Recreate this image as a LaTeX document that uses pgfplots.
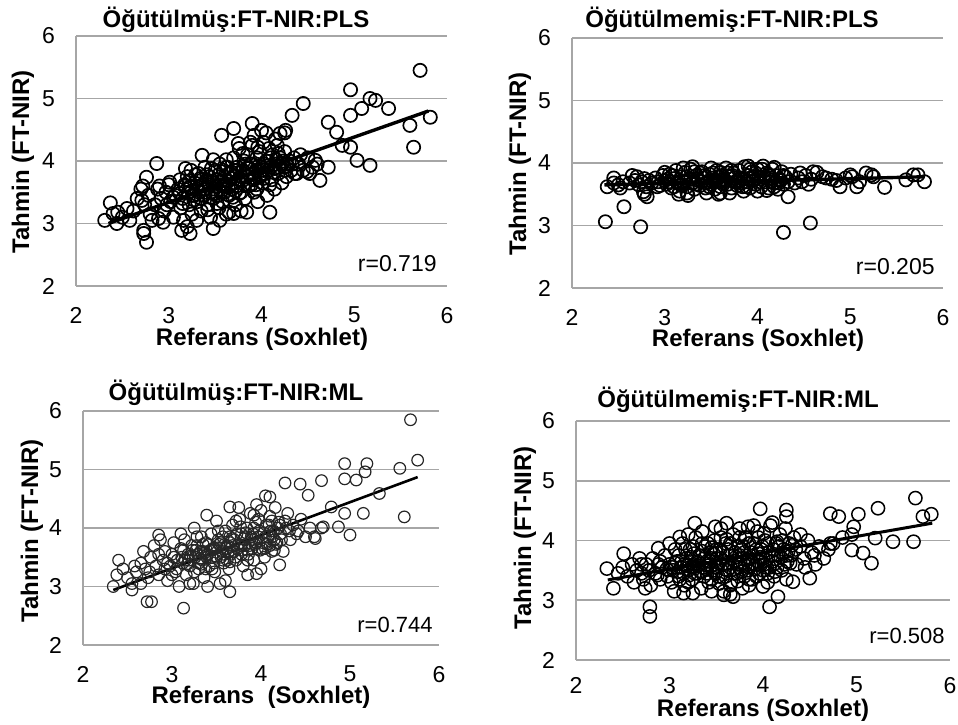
\documentclass[border=0pt]{standalone}
\usepackage{fontspec}
\setmainfont{Liberation Sans}
\usepackage{pgfplots}
\pgfplotsset{compat=1.18}

\pgfplotsset{
  panel/.style={
    scale only axis,
    anchor=south west,
    xmin=2, xmax=6, ymin=2, ymax=6,
    xtick={2,3,4,5,6}, ytick={2,3,4,5,6},
    axis x line*=bottom, axis y line*=left,
    axis line style={draw=black!35, line width=0.9pt, -},
    ymajorgrids,
    grid style={draw=black!35, line width=0.9pt},
    major tick length=0pt,
    /pgf/number format/assume math mode=true,
    tick label style={font=\fontsize{11.5}{12}\selectfont},
    yticklabel style={xshift=-7pt},
    xticklabel style={yshift=-7pt},
  },
  pts/.style={only marks, mark=o, mark size=3.3pt, mark options={line width=0.85pt, draw=black}},
  fit/.style={no marks, line width=1.7pt, black},
}

\begin{document}
\begin{tikzpicture}
\useasboundingbox (0,0) rectangle (479pt,362pt);

% top left
\begin{axis}[panel, at={(38pt,219pt)}, width=185.5pt, height=125pt]
\addplot[pts] coordinates {
(5.71,5.45) (4.96,5.14) (5.08,4.84) (4.96,4.73) (5.17,5.00) (5.23,4.97) (5.37,4.84)
(5.82,4.70) (5.60,4.57) (5.64,4.22) (5.17,3.93) (5.03,4.01) (4.96,4.22) (4.87,4.25)
(4.81,4.46) (4.72,4.62) (4.72,3.90) (4.63,3.69) (4.58,4.01) (4.45,4.92) (4.33,4.73)
(4.26,4.49) (4.20,4.44) (3.70,4.52) (3.57,4.41) (3.90,4.60) (4.00,4.49) (3.92,4.41)
(3.36,4.09) (2.87,3.96) (2.37,3.33) (2.31,3.05) (2.44,3.00) (2.40,3.16) (2.55,3.24)
(2.71,3.37) (2.76,3.74) (2.73,2.89) (2.76,2.70) (2.73,2.84) (2.89,3.08) (2.94,3.02)
(3.14,2.89) (3.23,2.84) (3.48,2.92) (4.09,3.18) (3.84,3.18) (3.70,3.16) (3.01,3.66)
(3.18,3.88) (4.49,3.83) (4.36,3.80)
(2.45,3.18) (2.50,3.10) (2.58,3.05) (2.62,3.20) (2.66,3.40) (2.70,3.55) (2.72,3.60)
(2.74,3.30) (2.78,3.45) (2.80,3.15) (2.82,3.05) (2.85,3.30) (2.88,3.55) (2.90,3.60)
(2.92,3.40) (2.95,3.20) (2.97,3.50) (3.00,3.62) (3.02,3.35) (3.05,3.10) (3.07,3.45)
(3.10,3.55) (3.12,3.70) (3.13,3.25) (3.15,3.40) (3.16,3.05) (3.18,3.60) (3.20,3.75)
(3.21,3.50) (3.22,3.30) (3.24,3.85) (3.25,3.15) (3.26,3.45) (3.28,3.65) (3.30,3.55)
(3.31,3.35) (3.32,3.80) (3.34,3.60) (3.35,3.20) (3.36,3.70) (3.38,3.45) (3.39,3.90)
(3.40,3.55) (3.42,3.30) (3.43,3.65) (3.44,3.75) (3.45,3.10) (3.46,3.50) (3.48,3.40)
(3.50,3.85) (3.51,3.60) (3.52,3.70) (3.54,3.25) (3.55,3.95) (3.56,3.50) (3.58,3.35)
(3.60,3.75) (3.61,3.60) (3.62,3.15) (3.63,3.90) (3.65,3.45) (3.66,3.80) (3.68,3.55)
(3.70,4.05) (3.71,3.65) (3.72,3.30) (3.74,3.90) (3.75,3.70) (3.76,4.20) (3.78,3.50)
(3.80,3.85) (3.81,4.00) (3.82,3.40) (3.84,3.75) (3.85,4.10) (3.86,3.60) (3.88,3.95)
(3.90,4.25) (3.91,3.70) (3.92,3.50) (3.94,3.85) (3.95,4.05) (3.96,3.35) (3.98,4.15)
(4.00,3.90) (4.01,3.65) (4.02,4.30) (4.04,3.80) (4.05,4.00) (4.06,3.45) (4.08,4.20)
(4.10,3.90) (4.11,3.70) (4.12,4.10) (4.14,3.55) (4.15,3.95) (4.17,4.25) (4.18,3.80)
(4.20,4.05) (4.22,3.65) (4.24,3.90) (4.25,4.15) (4.27,3.75) (4.30,4.00) (4.32,3.85)
(4.35,4.05) (4.38,3.80) (4.40,3.95) (4.42,4.10) (4.45,3.85) (4.50,4.05) (4.55,3.90)
(4.52,3.80) (4.60,3.95) (3.48,4.02) (3.62,4.02) (3.75,4.28) (3.88,4.30) (4.05,4.45)
(4.15,4.35) (4.25,4.45) (3.20,2.95) (3.30,3.05) (3.55,3.05) (3.65,3.18) (3.78,3.20)
(3.12,3.48) (3.17,3.62) (3.23,3.58) (3.27,3.38) (3.29,3.78) (3.33,3.50) (3.37,3.62)
(3.41,3.78) (3.45,3.42) (3.47,3.66) (3.49,3.55) (3.53,3.45) (3.57,3.68) (3.59,3.85)
(3.64,3.58) (3.67,3.72) (3.69,3.42) (3.73,3.60) (3.77,3.82) (3.79,3.68) (3.83,3.95)
(3.87,3.78) (3.89,3.62) (3.93,3.72) (3.97,3.92) (3.99,3.78) (4.03,3.95) (4.07,3.85)
(4.09,3.62) (4.13,3.82) (4.16,4.02) (4.19,3.90) (4.23,4.00) (4.28,3.92) (4.33,3.95)
(3.35,3.40) (3.55,3.62) (3.85,3.88) (3.60,3.50) (3.70,3.85) (3.40,3.68) (3.25,3.52)
(3.15,3.32) (3.05,3.42) (2.98,3.30) (3.95,3.55) (4.02,3.72) (3.76,3.48) (3.52,3.32)
(3.42,3.22)
(3.22,3.68) (3.28,3.45) (3.34,3.72) (3.38,3.55) (3.44,3.62) (3.50,3.48) (3.54,3.78)
(3.58,3.60) (3.64,3.68) (3.68,3.82) (3.72,3.52) (3.78,3.75) (3.82,3.62) (3.86,3.88)
(3.90,3.95) (3.94,3.62) (3.98,3.75) (4.02,3.85) (4.06,3.92) (4.10,4.05) (4.14,3.88)
(4.18,4.12) (4.22,3.95) (4.26,3.85) (3.62,3.90) (3.80,4.12) (3.96,4.22) (3.46,3.88)
};
\addplot[fit] coordinates {(2.35,3.00) (5.80,4.80)};
\end{axis}

% top right
\begin{axis}[panel, at={(286pt,218pt)}, width=185.5pt, height=125pt]
\addplot[pts] coordinates {
(2.36,3.06) (2.56,3.30) (2.74,2.98) (4.28,2.89) (4.57,3.04) (5.37,3.61) (5.80,3.70)
(5.07,3.62) (4.89,3.62) (4.33,3.46) (2.81,3.46) (2.77,3.54) (3.24,3.52) (3.60,3.52)
(2.38,3.62) (2.45,3.76) (2.52,3.60) (5.17,3.84) (5.23,3.81) (5.00,3.81) (5.60,3.73)
(5.68,3.81) (5.73,3.81) (4.60,3.86) (4.46,3.84) (4.74,3.76)
(2.62,3.68) (2.68,3.72) (2.70,3.78) (2.72,3.65) (2.75,3.70) (2.78,3.75) (2.80,3.62)
(2.83,3.72) (2.86,3.68) (2.90,3.76) (2.93,3.70) (2.95,3.64) (2.98,3.80) (3.00,3.72)
(3.02,3.66) (3.05,3.82) (3.07,3.60) (3.10,3.75) (3.12,3.88) (3.14,3.68) (3.16,3.55)
(3.18,3.78) (3.20,3.70) (3.22,3.85) (3.24,3.62) (3.26,3.74) (3.28,3.90) (3.30,3.68)
(3.32,3.58) (3.34,3.80) (3.36,3.72) (3.38,3.64) (3.40,3.86) (3.42,3.76) (3.44,3.60)
(3.46,3.70) (3.48,3.82) (3.50,3.66) (3.52,3.76) (3.54,3.58) (3.56,3.88) (3.58,3.70)
(3.60,3.62) (3.62,3.80) (3.64,3.74) (3.66,3.92) (3.68,3.66) (3.70,3.78) (3.72,3.60)
(3.74,3.84) (3.76,3.70) (3.78,3.64) (3.80,3.88) (3.82,3.76) (3.84,3.62) (3.86,3.94)
(3.88,3.70) (3.90,3.80) (3.92,3.60) (3.94,3.86) (3.96,3.72) (3.98,3.66) (4.00,3.90)
(4.02,3.78) (4.04,3.62) (4.06,3.95) (4.08,3.70) (4.10,3.84) (4.12,3.60) (4.14,3.76)
(4.16,3.90) (4.18,3.68) (4.20,3.80) (4.22,3.58) (4.24,3.74) (4.26,3.86) (4.28,3.66)
(4.30,3.78) (4.33,3.70) (4.36,3.82) (4.40,3.68) (4.44,3.76) (4.48,3.70) (4.52,3.80)
(4.55,3.66) (4.58,3.74) (4.64,3.85) (4.70,3.78) (4.80,3.74) (4.85,3.72) (4.95,3.76)
(5.02,3.78) (5.10,3.70) (5.25,3.78) (3.15,3.50) (3.25,3.48) (3.45,3.52) (3.58,3.50)
(3.70,3.52) (3.85,3.55) (4.00,3.55) (4.10,3.56) (2.50,3.65) (2.45,3.68) (2.55,3.70)
(2.65,3.80) (2.78,3.50) (3.50,3.92) (3.30,3.94) (3.20,3.92) (3.90,3.95) (4.05,3.90)
(4.18,3.93) (3.10,3.62) (3.35,3.75) (3.65,3.72) (3.95,3.78) (3.55,3.70) (3.75,3.76)
(3.45,3.68) (4.25,3.72) (3.05,3.70) (2.92,3.62) (3.85,3.74) (3.60,3.85) (3.40,3.70)
(3.80,3.70) (4.15,3.70) (3.00,3.85)
(3.03,3.74) (3.13,3.70) (3.23,3.78) (3.33,3.66) (3.43,3.80) (3.53,3.72) (3.63,3.66)
(3.73,3.80) (3.83,3.68) (3.93,3.76) (4.03,3.70) (4.13,3.80) (4.23,3.68) (3.08,3.80)
(3.18,3.64) (3.28,3.74) (3.38,3.84) (3.48,3.62) (3.58,3.78) (3.68,3.84) (3.78,3.70)
(3.88,3.62) (3.98,3.84) (4.08,3.76) (4.18,3.62) (4.28,3.80) (3.52,3.84) (3.72,3.88)
(3.92,3.90) (3.32,3.86)
};
\addplot[fit] coordinates {(2.35,3.65) (5.80,3.78)};
\end{axis}

% bottom left
\begin{axis}[panel, at={(41.5pt,39.5pt)}, width=178pt, height=117pt,
  pts/.append style={mark size=2.9pt, mark options={line width=0.6pt, draw=black!85}}]
\addplot[pts] coordinates {
(5.68,5.85) (5.76,5.16) (4.94,5.10) (5.19,5.10) (5.17,4.96) (4.94,4.84) (5.07,4.82)
(5.56,5.02) (4.68,4.81) (4.44,4.75) (4.27,4.77) (4.53,4.56) (4.10,4.53) (5.33,4.59)
(5.15,4.25) (4.94,4.25) (4.79,4.36) (5.61,4.19) (5.00,3.88) (4.87,4.02) (4.70,4.02)
(4.61,3.82) (3.39,4.22) (3.65,4.36) (2.40,3.45) (2.34,3.00) (2.55,2.94) (2.72,2.74)
(2.77,2.74) (3.13,2.63) (3.65,2.91) (2.85,3.88) (3.95,3.22) (4.21,3.37)
(2.38,3.20) (2.45,3.30) (2.50,3.15) (2.55,3.05) (2.60,3.25) (2.65,3.40) (2.68,3.60)
(2.70,3.30) (2.73,3.15) (2.76,3.50) (2.80,3.70) (2.82,3.35) (2.85,3.20) (2.87,3.80)
(2.90,3.45) (2.92,3.60) (2.95,3.10) (2.98,3.35) (3.00,3.55) (3.02,3.75) (3.04,3.25)
(3.06,3.45) (3.08,3.00) (3.10,3.65) (3.12,3.40) (3.14,3.80) (3.16,3.20) (3.18,3.55)
(3.20,3.35) (3.22,3.70) (3.24,3.05) (3.26,3.50) (3.28,3.85) (3.30,3.30) (3.32,3.60)
(3.34,3.45) (3.36,3.15) (3.38,3.75) (3.40,3.55) (3.42,3.35) (3.44,3.90) (3.46,3.65)
(3.48,3.25) (3.50,3.50) (3.52,3.80) (3.54,3.05) (3.56,3.60) (3.58,3.40) (3.60,3.95)
(3.62,3.70) (3.64,3.30) (3.66,3.55) (3.68,4.05) (3.70,3.80) (3.72,3.45) (3.74,3.65)
(3.76,4.15) (3.78,3.90) (3.80,3.35) (3.82,3.70) (3.84,4.00) (3.86,3.55) (3.88,4.25)
(3.90,3.80) (3.92,3.45) (3.94,4.10) (3.96,3.65) (3.98,3.95) (4.00,4.30) (4.02,3.75)
(4.04,3.50) (4.06,4.05) (4.08,3.85) (4.10,4.20) (4.12,3.60) (4.14,3.95) (4.16,4.35)
(4.18,3.75) (4.20,4.10) (4.22,3.90) (4.25,3.60) (4.28,4.00) (4.30,4.25) (4.33,3.80)
(4.36,4.05) (4.40,3.90) (4.45,4.15) (4.50,3.85) (4.55,4.00) (4.60,3.85) (4.68,4.00)
(3.10,3.90) (3.25,4.00) (3.50,4.12) (3.75,4.35) (3.95,4.40) (4.05,4.55) (3.20,3.05)
(3.40,3.00) (3.60,3.10) (3.85,3.20) (4.00,3.30) (3.15,3.45) (3.35,3.60) (3.55,3.75)
(3.65,3.85) (3.45,3.50) (3.30,3.40) (3.70,3.60) (3.90,3.65) (4.15,3.80) (3.05,3.30)
(2.95,3.40) (3.00,3.20) (2.65,3.05) (2.58,3.35) (3.58,3.55) (3.62,3.45) (3.78,3.55)
(3.82,3.85) (3.92,4.00) (4.10,3.70) (3.28,3.70) (3.38,3.30) (3.48,3.65) (3.68,3.70)
(3.11,3.50) (3.17,3.38) (3.21,3.52) (3.27,3.62) (3.31,3.48) (3.35,3.72) (3.39,3.50)
(3.43,3.62) (3.47,3.40) (3.51,3.66) (3.55,3.50) (3.59,3.72) (3.63,3.58) (3.67,3.82)
(3.71,3.50) (3.75,3.72) (3.79,3.62) (3.83,3.92) (3.87,3.70) (3.91,3.90) (3.95,3.75)
(3.99,3.62) (4.03,3.92) (4.07,3.72) (4.11,3.95) (4.15,3.62) (4.19,4.00) (4.23,3.80)
(4.27,4.12) (4.32,3.95) (3.25,3.25) (3.45,3.30) (3.65,3.42) (3.85,3.45) (4.05,3.65)
(3.02,3.50) (2.92,3.30) (3.57,3.85) (3.77,4.02) (3.97,4.15) (3.33,3.85) (3.13,3.62)
(2.75,3.25) (2.85,3.55) (4.42,3.95)
(3.19,3.45) (3.23,3.62) (3.29,3.55) (3.33,3.38) (3.37,3.58) (3.41,3.72) (3.45,3.62)
(3.49,3.52) (3.53,3.72) (3.57,3.45) (3.61,3.65) (3.65,3.75) (3.69,3.60) (3.73,3.90)
(3.77,3.70) (3.81,3.82) (3.85,3.62) (3.89,3.85) (3.93,3.72) (3.97,3.85) (4.01,3.65)
(4.05,3.85) (4.09,4.05) (4.13,3.85) (4.17,3.72) (4.21,4.05) (3.52,3.95) (3.72,4.12)
(3.92,4.22) (4.12,4.12)
};
\addplot[fit, line width=1.3pt] coordinates {(2.34,2.94) (5.76,4.87)};
\end{axis}

% bottom right
\begin{axis}[panel, at={(288pt,32pt)}, width=187pt, height=119.5pt,
  xticklabel style={yshift=2pt},
  pts/.append style={mark size=3.3pt, mark options={line width=0.75pt, draw=black}}]
\addplot[pts] coordinates {
(5.63,4.71) (5.80,4.44) (5.71,4.40) (5.23,4.54) (5.02,4.44) (4.97,4.23) (4.72,4.45)
(4.81,4.40) (5.61,3.98) (5.39,3.98) (5.20,4.04) (4.95,3.84) (5.07,3.79) (5.16,3.62)
(4.72,3.95) (4.50,3.37) (4.32,3.31) (4.16,3.06) (4.07,2.89) (4.00,3.23) (3.97,4.53)
(4.25,4.51) (4.25,4.40) (2.79,2.89) (2.79,2.73) (2.40,3.20) (2.33,3.53) (2.51,3.78)
(2.88,3.87) (2.74,3.20) (3.11,4.06) (3.27,4.29) (3.49,4.23) (3.61,4.29) (3.84,4.23)
(3.68,3.06) (3.15,3.12) (3.58,3.09)
(2.45,3.45) (2.50,3.55) (2.55,3.40) (2.60,3.60) (2.62,3.30) (2.65,3.50) (2.68,3.70)
(2.70,3.45) (2.72,3.35) (2.75,3.60) (2.78,3.50) (2.80,3.25) (2.82,3.70) (2.85,3.45)
(2.88,3.60) (2.90,3.35) (2.92,3.55) (2.95,3.75) (2.98,3.40) (3.00,3.60) (3.02,3.30)
(3.04,3.50) (3.06,3.85) (3.08,3.65) (3.10,3.40) (3.12,3.55) (3.14,3.95) (3.16,3.25)
(3.18,3.70) (3.20,3.50) (3.22,3.85) (3.24,3.35) (3.26,3.60) (3.28,4.05) (3.30,3.45)
(3.32,3.75) (3.34,3.20) (3.36,3.55) (3.38,3.90) (3.40,3.65) (3.42,3.30) (3.44,3.80)
(3.46,3.50) (3.48,4.00) (3.50,3.70) (3.52,3.40) (3.54,3.85) (3.56,3.60) (3.58,3.15)
(3.60,3.95) (3.62,3.50) (3.64,3.75) (3.66,3.30) (3.68,4.10) (3.70,3.65) (3.72,3.45)
(3.74,3.90) (3.76,3.60) (3.78,3.20) (3.80,3.80) (3.82,4.05) (3.84,3.50) (3.86,3.70)
(3.88,3.35) (3.90,3.95) (3.92,3.60) (3.94,4.15) (3.96,3.45) (3.98,3.85) (4.00,3.70)
(4.02,4.00) (4.04,3.55) (4.06,3.80) (4.08,4.25) (4.10,3.65) (4.12,3.40) (4.14,3.95)
(4.16,3.75) (4.18,4.10) (4.20,3.50) (4.22,3.85) (4.24,4.20) (4.26,3.65) (4.28,3.95)
(4.30,3.75) (4.33,4.05) (4.36,3.60) (4.40,3.90) (4.44,3.70) (4.48,4.00) (4.52,3.80)
(4.56,3.60) (4.60,3.90) (4.65,3.70) (4.70,3.85) (4.75,3.95) (4.85,4.05) (4.95,4.10)
(3.00,3.95) (3.20,4.10) (3.35,4.15) (3.55,4.20) (3.75,4.20) (3.90,4.25) (4.10,4.30)
(3.05,3.15) (3.25,3.12) (3.45,3.15) (3.65,3.10) (3.85,3.25) (4.05,3.30) (4.25,3.35)
(3.15,3.45) (3.30,3.65) (3.50,3.55) (3.70,3.80) (3.85,3.60) (4.00,3.50) (3.95,3.65)
(3.60,3.40) (3.40,3.45) (3.20,3.30) (2.90,3.65) (2.70,3.60) (3.10,3.75) (3.50,3.85)
(3.80,3.40) (4.15,3.55) (4.35,3.85) (3.65,3.55) (3.45,3.70) (3.25,3.55) (3.75,3.75)
(3.03,3.55) (3.09,3.48) (3.13,3.65) (3.19,3.58) (3.23,3.72) (3.27,3.45) (3.31,3.58)
(3.35,3.82) (3.39,3.52) (3.43,3.65) (3.47,3.78) (3.51,3.58) (3.55,3.70) (3.59,3.52)
(3.63,3.85) (3.67,3.62) (3.71,3.72) (3.75,3.55) (3.79,3.90) (3.83,3.68) (3.87,3.80)
(3.91,3.52) (3.95,3.78) (3.99,3.90) (4.03,3.68) (4.07,3.55) (4.11,3.85) (4.15,3.98)
(4.19,3.72) (4.23,3.60) (4.27,3.82) (4.31,3.92) (3.37,3.40) (3.57,3.38) (3.77,3.48)
(3.97,3.58) (3.17,3.85) (3.41,3.95) (3.61,4.02) (3.81,4.05) (4.01,4.12) (2.97,3.52)
(2.87,3.42) (3.53,3.28) (3.73,3.32) (3.93,3.40) (4.13,3.48) (4.45,3.55) (4.55,3.75)
(4.40,4.10)
(3.06,3.62) (3.11,3.35) (3.16,3.60) (3.21,3.42) (3.26,3.78) (3.29,3.62) (3.33,3.48)
(3.37,3.70) (3.41,3.58) (3.45,3.88) (3.49,3.45) (3.53,3.62) (3.57,3.80) (3.61,3.62)
(3.65,3.95) (3.69,3.45) (3.73,3.60) (3.77,3.85) (3.81,3.58) (3.85,3.95) (3.89,3.62)
(3.93,3.85) (3.97,3.72) (4.01,3.60) (4.05,3.95) (4.09,3.75) (4.13,3.62) (4.17,3.90)
(4.21,4.00) (4.25,3.75) (4.29,3.62) (3.35,3.95) (3.55,4.05) (3.75,4.05) (3.95,4.05)
(3.45,3.35) (3.65,3.25) (3.85,3.35) (4.05,3.45) (3.25,3.90)
};
\addplot[fit, line width=1.5pt] coordinates {(2.34,3.34) (5.81,4.29)};
\end{axis}

% titles, axis labels and r values
\begin{scope}[every node/.style={inner sep=0pt}]
\node[font=\bfseries\fontsize{12}{14}\selectfont] at (118pt,352pt) {Öğütülmüş:FT-NIR:PLS};
\node[font=\bfseries\fontsize{12}{14}\selectfont] at (366pt,352pt) {Öğütülmemiş:FT-NIR:PLS};
\node[font=\bfseries\fontsize{12}{14}\selectfont] at (118pt,165.5pt) {Öğütülmüş:FT-NIR:ML};
\node[font=\bfseries\fontsize{12}{14}\selectfont] at (369pt,162pt) {Öğütülmemiş:FT-NIR:ML};

\node[font=\bfseries\fontsize{12}{14}\selectfont] at (131pt,192.5pt) {Referans (Soxhlet)};
\node[font=\bfseries\fontsize{12}{14}\selectfont] at (379pt,192pt) {Referans (Soxhlet)};
\node[font=\bfseries\fontsize{12}{14}\selectfont] at (130.5pt,13.5pt) {Referans\ \ (Soxhlet)};
\node[font=\bfseries\fontsize{12}{14}\selectfont] at (381.5pt,7pt) {Referans (Soxhlet)};

\node[font=\bfseries\fontsize{12}{14}\selectfont, rotate=90] at (11.5pt,281pt) {Tahmin (FT-NIR)};
\node[font=\bfseries\fontsize{12}{14}\selectfont, rotate=90] at (260pt,280pt) {Tahmin (FT-NIR)};
\node[font=\bfseries\fontsize{12}{14}\selectfont, rotate=90] at (16pt,96.5pt) {Tahmin (FT-NIR)};
\node[font=\bfseries\fontsize{12}{14}\selectfont, rotate=90] at (262.5pt,93pt) {Tahmin (FT-NIR)};

\node[font=\fontsize{11.5}{13}\selectfont, anchor=base east] at (218.5pt,226pt) {r=0.719};
\node[font=\fontsize{11.5}{13}\selectfont, anchor=base east] at (467.5pt,224.5pt) {r=0.205};
\node[font=\fontsize{11}{13}\selectfont, anchor=base east] at (216.5pt,46pt) {r=0.744};
\node[font=\fontsize{11}{13}\selectfont, anchor=base east] at (472.5pt,40.5pt) {r=0.508};
\end{scope}
\end{tikzpicture}
\end{document}
